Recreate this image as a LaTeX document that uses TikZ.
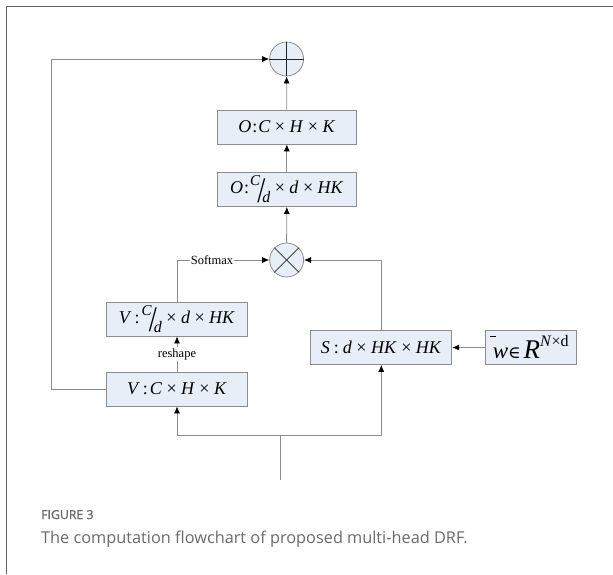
\documentclass[tikz,border=0pt]{standalone}
\usepackage{fontspec}
\usepackage{graphicx}
\setmainfont{Liberation Serif}
\newfontfamily\capfont{Open Sans}
\newfontfamily\capbold{Open Sans}[FakeBold=1.2]
\newfontfamily\symfont{DejaVu Serif}
\usetikzlibrary{shapes.geometric,arrows.meta}
\definecolor{boxfill}{HTML}{E8EEF7}
\definecolor{linegray}{HTML}{8C8C8C}
\definecolor{capgray}{HTML}{6A6A6A}
\newcommand\mi[1]{\textit{#1}}
\newcommand\tms{\kern4.5pt×\kern4.5pt}
\newcommand\frcd{\raisebox{8pt}{\fontsize{15}{16}\selectfont\mi{C}}\kern-3pt\raisebox{-8.5pt}{\scalebox{0.8}[1]{\fontsize{36}{38}\selectfont /}}\kern-3pt\raisebox{-9pt}{\fontsize{16}{17}\selectfont\mi{d}}}
\begin{document}
\begin{tikzpicture}[x=1pt,y=-1pt,
  box/.style={draw=linegray,fill=boxfill,line width=0.8pt,minimum width=141pt,minimum height=34pt,inner sep=0pt,font=\fontsize{18}{20}\selectfont},
  opnode/.style={circle,draw=linegray,fill=boxfill,line width=0.8pt,minimum size=34pt,inner sep=0pt},
  conn/.style={draw=linegray,line width=0.8pt},
  arr/.style={conn,-{Latex[length=7pt,width=6pt,black]}},
  lbl/.style={fill=white,inner sep=1pt,font=\fontsize{12.5}{14}\selectfont}]
\useasboundingbox (0,0) rectangle (613,574);
\draw[line width=1.3pt,color=black!62] (6.5,574) -- (6.5,6.8) -- (613,6.8);
% operators
\node[opnode] (plus) at (286.6,59) {};
\draw[line width=0.8pt,black!85] (plus.west) -- (plus.east) (plus.north) -- (plus.south);
\node[opnode] (times) at (286.6,260) {};
\draw[line width=0.8pt,black!85] (times.45) -- (times.225) (times.135) -- (times.315);
% boxes
\node[box,minimum width=139.5pt] (o1) at (286.8,127) {\mi{O}\kern1pt:\kern1pt\mi{C}\tms\mi{H}\tms\mi{K}};
\node[box,minimum width=139.5pt] (o2) at (286.8,189.5) {\mi{O}\kern1pt:\kern1pt\frcd\tms\mi{d}\tms\mi{HK}};
\node[box] (v2) at (177,319) {\mi{V}\kern3pt:\kern2pt\frcd\tms\mi{d}\tms\mi{HK}};
\node[box] (v1) at (177,389) {\mi{V}\kern3pt:\kern2pt\mi{C}\tms\mi{H}\tms\mi{K}};
\node[box] (s) at (381.3,347.5) {\mi{S}\kern4pt:\kern4pt\mi{d}\tms\mi{HK}\tms\mi{HK}};
\node[box,minimum width=90.7pt] (w) at (530.7,347.5) {\rlap{\kern-2.5pt\raisebox{22pt}{\rule{6pt}{0.8pt}}}{\fontsize{23}{24}\selectfont\mi{w}}{\symfont\fontsize{17}{18}\selectfont ∈}\kern3pt{\fontsize{27}{28}\selectfont\mi{R}}\raisebox{12pt}{\fontsize{16}{17}\selectfont\mi{N}×d}};
% coordinates
\coordinate (lc) at (51.2,389);
\coordinate (lt) at (51.2,59);
\coordinate (in) at (280.8,480);
\coordinate (jn) at (280.8,435);
% connectors
\draw[arr] (o1.north) -- (plus.south);
\draw[arr] (o2.north) -- (o1.south);
\draw[arr] (times.north) -- (o2.south);
\draw[arr] (v2.north) |- (times.west) node[lbl,pos=0.69] {Softmax};
\draw[arr] (s.north) |- (times.east);
\draw[arr] (v1.north) -- (v2.south) node[lbl,midway] {reshape};
\draw[arr] (v1.west) -- (lc) -- (lt) -- (plus.west);
\draw[arr] (w.west) -- (s.east);
\draw[conn] (in) -- (jn);
\draw[arr] (jn) -| (v1.south);
\draw[arr] (jn) -| (s.south);
% caption
\node[anchor=base west,inner sep=0pt,text=capgray,font=\capbold\fontsize{12.3}{14}\selectfont] (fig) at (41,519) {FIGURE 3};
\node[anchor=base west,inner sep=0pt,text=capgray,font=\capfont\fontsize{16.3}{18}\selectfont] (cap) at (41,543) {The computation flowchart of proposed multi-head DRF.};
\end{tikzpicture}
\end{document}
